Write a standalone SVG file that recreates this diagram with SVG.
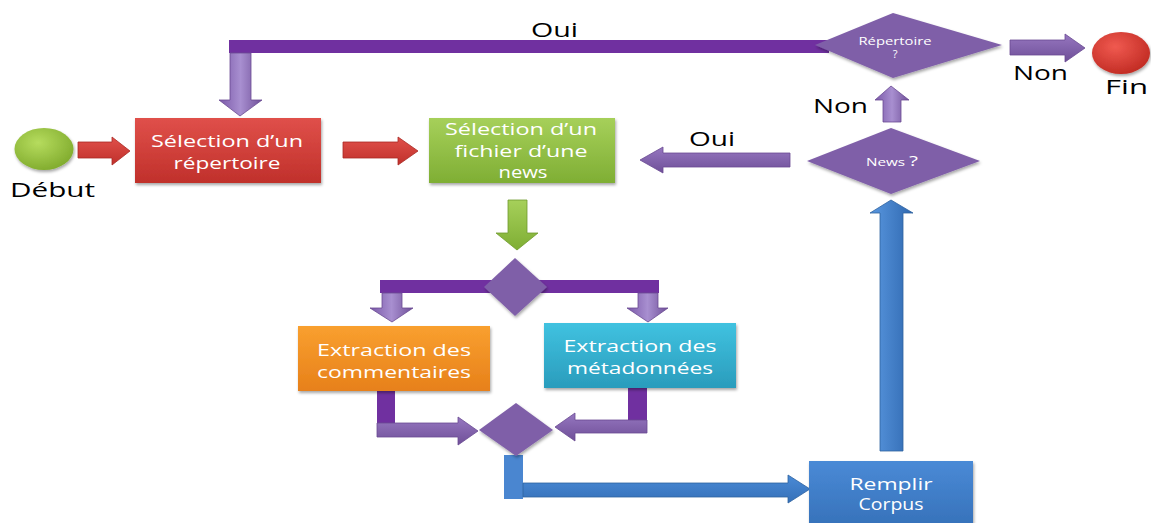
<svg xmlns="http://www.w3.org/2000/svg" width="1151" height="523" viewBox="0 0 1151 523">
<defs>
<linearGradient id="gRed" x1="0" y1="0" x2="0" y2="1"><stop offset="0" stop-color="#e0504a"/><stop offset="1" stop-color="#c0302b"/></linearGradient>
<linearGradient id="gGreen" x1="0" y1="0" x2="0" y2="1"><stop offset="0" stop-color="#a6d05a"/><stop offset="1" stop-color="#7fae34"/></linearGradient>
<linearGradient id="gOrange" x1="0" y1="0" x2="0" y2="1"><stop offset="0" stop-color="#f9a02f"/><stop offset="1" stop-color="#e7801a"/></linearGradient>
<linearGradient id="gTeal" x1="0" y1="0" x2="0" y2="1"><stop offset="0" stop-color="#40c2e0"/><stop offset="1" stop-color="#2a9cbc"/></linearGradient>
<linearGradient id="gBlue" x1="0" y1="0" x2="0" y2="1"><stop offset="0" stop-color="#4a8ad6"/><stop offset="1" stop-color="#3570b8"/></linearGradient>
<linearGradient id="gBlueV" x1="0" y1="0" x2="1" y2="0"><stop offset="0" stop-color="#5a98e0"/><stop offset="1" stop-color="#2f68b0"/></linearGradient>
<linearGradient id="gPurp" x1="0" y1="0" x2="0" y2="1"><stop offset="0" stop-color="#9677c0"/><stop offset="1" stop-color="#6f4f98"/></linearGradient>
<linearGradient id="gPurpV" x1="0" y1="0" x2="1" y2="0"><stop offset="0" stop-color="#7a58a8"/><stop offset="0.5" stop-color="#a88fd0"/><stop offset="1" stop-color="#6f4f98"/></linearGradient>
<radialGradient id="gGreenC" cx="0.4" cy="0.35" r="0.7"><stop offset="0" stop-color="#b6dc5e"/><stop offset="1" stop-color="#7faa2c"/></radialGradient>
<radialGradient id="gRedC" cx="0.4" cy="0.35" r="0.7"><stop offset="0" stop-color="#f05a50"/><stop offset="1" stop-color="#c02a22"/></radialGradient>
<filter id="sh" x="-10%" y="-10%" width="130%" height="140%"><feDropShadow dx="1" dy="2" stdDeviation="1.5" flood-color="#000" flood-opacity="0.35"/></filter>
</defs>
<style>
.bt{font-family:"Open Sans","DejaVu Sans",sans-serif;fill:#fff;text-anchor:middle}
.lb{font-family:"Open Sans","DejaVu Sans",sans-serif;fill:#000;font-size:20px}
.bar{fill:#7030a0}
.pa{fill:url(#gPurpV);stroke:#6a4a92;stroke-width:0.8}
.ph{fill:url(#gPurp);stroke:#6a4a92;stroke-width:0.8}
.dia{fill:#7f5fa8;filter:url(#sh)}
</style>

<g id="connectors">
  <!-- Début -> Sélection répertoire -->
  <polygon points="78,142 112,142 112,137 130,151 112,165 112,158 78,158" fill="url(#gRed)" stroke="#a82a24" stroke-width="0.8"/>
  <!-- répertoire -> fichier -->
  <polygon points="343,142 398,142 398,137 418,151 398,165 398,158 343,158" fill="url(#gRed)" stroke="#a82a24" stroke-width="0.8"/>
  <!-- top Oui loop -->
  <rect class="bar" x="229" y="40" width="600" height="13"/>
  <polygon class="pa" points="230,53 251,53 251,100 262,100 240,116 219,100 230,100"/>
  <!-- fichier -> split diamond (green) -->
  <polygon points="508,200 527,200 527,233 538,233 517,250 496,233 508,233" fill="url(#gGreen)" stroke="#6f9a2e" stroke-width="0.8"/>
  <!-- split bar -->
  <rect class="bar" x="380" y="280" width="279" height="13"/>
  <polygon class="pa" points="382,293 402,293 402,308 413,308 392,322 370,308 382,308"/>
  <polygon class="pa" points="638,293 658,293 658,308 668,308 648,322 627,308 638,308"/>
  <!-- orange -> merge diamond -->
  <rect class="bar" x="377" y="391" width="18" height="40"/>
  <polygon class="ph" points="377,423 458,423 458,417 478,431 458,445 458,437 377,437"/>
  <!-- teal -> merge diamond -->
  <rect class="bar" x="628" y="388" width="19" height="45"/>
  <polygon class="ph" points="647,420 575,420 575,413 555,427 575,441 575,433 647,433"/>
  <!-- merge -> Remplir corpus -->
  <rect x="504" y="455" width="19" height="44" fill="#4a86d0"/>
  <polygon points="523,483 788,483 788,475 810,489 788,503 788,497 523,497" fill="url(#gBlue)" stroke="#2f62a0" stroke-width="0.8"/>
  <!-- Remplir -> News? -->
  <polygon points="880,451 903,451 903,213 913,213 891,200 870,213 880,213" fill="url(#gBlueV)" stroke="#2f62a0" stroke-width="0.8"/>
  <!-- News? Oui -> fichier -->
  <polygon class="ph" points="790,153 663,153 663,147 640,160 663,173 663,167 790,167"/>
  <!-- News? Non -> Répertoire? -->
  <polygon class="pa" points="883,122 901,122 901,100 909,100 891,86 875,100 883,100"/>
  <!-- Répertoire? Non -> Fin -->
  <polygon class="ph" points="1010,40 1065,40 1065,34 1085,48 1065,62 1065,55 1010,55"/>
  <text class="lb" x="531" y="37" textLength="47" lengthAdjust="spacingAndGlyphs">Oui</text>
  <text class="lb" x="689" y="146" textLength="46" lengthAdjust="spacingAndGlyphs">Oui</text>
  <text class="lb" x="813" y="113" textLength="55" lengthAdjust="spacingAndGlyphs">Non</text>
  <text class="lb" x="1013" y="80" textLength="55" lengthAdjust="spacingAndGlyphs">Non</text>
</g>

<g id="debut">
  <ellipse cx="44" cy="149" rx="29.5" ry="21" fill="url(#gGreenC)" filter="url(#sh)"/>
  <text class="lb" x="10" y="197" font-size="21" textLength="85" lengthAdjust="spacingAndGlyphs">Début</text>
</g>

<g id="fin">
  <ellipse cx="1121" cy="53" rx="29" ry="21" fill="url(#gRedC)" filter="url(#sh)"/>
  <text class="lb" x="1105" y="94" textLength="43" lengthAdjust="spacingAndGlyphs">Fin</text>
</g>

<g id="selection-repertoire">
  <rect x="135" y="118" width="186" height="65" fill="url(#gRed)" filter="url(#sh)"/>
  <text class="bt" x="227" y="147" font-size="17" textLength="152" lengthAdjust="spacingAndGlyphs">Sélection d’un</text>
  <text class="bt" x="227" y="169" font-size="17" textLength="107" lengthAdjust="spacingAndGlyphs">répertoire</text>
</g>

<g id="selection-fichier">
  <rect x="429" y="118" width="186" height="65" fill="url(#gGreen)" filter="url(#sh)"/>
  <text class="bt" x="521" y="135" font-size="17" textLength="152" lengthAdjust="spacingAndGlyphs">Sélection d’un</text>
  <text class="bt" x="521" y="157" font-size="17" textLength="133" lengthAdjust="spacingAndGlyphs">fichier d’une</text>
  <text class="bt" x="523" y="178" font-size="17" textLength="49" lengthAdjust="spacingAndGlyphs">news</text>
</g>

<g id="split">
  <polygon class="dia" points="515,258 547,287 515,316 484,287"/>
</g>

<g id="extraction-commentaires">
  <rect x="298" y="326" width="192" height="65" fill="url(#gOrange)" filter="url(#sh)"/>
  <text class="bt" x="394" y="356" font-size="17" textLength="154" lengthAdjust="spacingAndGlyphs">Extraction des</text>
  <text class="bt" x="394" y="378" font-size="17" textLength="154" lengthAdjust="spacingAndGlyphs">commentaires</text>
</g>

<g id="extraction-metadonnees">
  <rect x="544" y="323" width="192" height="65" fill="url(#gTeal)" filter="url(#sh)"/>
  <text class="bt" x="640" y="352" font-size="17" textLength="153" lengthAdjust="spacingAndGlyphs">Extraction des</text>
  <text class="bt" x="640" y="374" font-size="17" textLength="146" lengthAdjust="spacingAndGlyphs">métadonnées</text>
</g>

<g id="merge">
  <polygon class="dia" points="516,403 553,430 516,456 479,430"/>
</g>

<g id="remplir-corpus">
  <rect x="809" y="461" width="164" height="70" fill="url(#gBlue)" filter="url(#sh)"/>
  <text class="bt" x="891" y="490" font-size="16" textLength="83" lengthAdjust="spacingAndGlyphs">Remplir</text>
  <text class="bt" x="891" y="510" font-size="16" textLength="65" lengthAdjust="spacingAndGlyphs">Corpus</text>
</g>

<g id="news">
  <polygon class="dia" points="891,128 980,161 891,194 807,161"/>
  <text class="bt" x="892" y="166" font-size="11" textLength="52" lengthAdjust="spacingAndGlyphs">News <tspan font-size="15">?</tspan></text>
</g>

<g id="repertoire">
  <polygon class="dia" points="893,13 1002,45 893,78 815,45"/>
  <text class="bt" x="895" y="45" font-size="11" textLength="73" lengthAdjust="spacingAndGlyphs">Répertoire</text>
  <text class="bt" x="895" y="58" font-size="11">?</text>
</g>
</svg>
